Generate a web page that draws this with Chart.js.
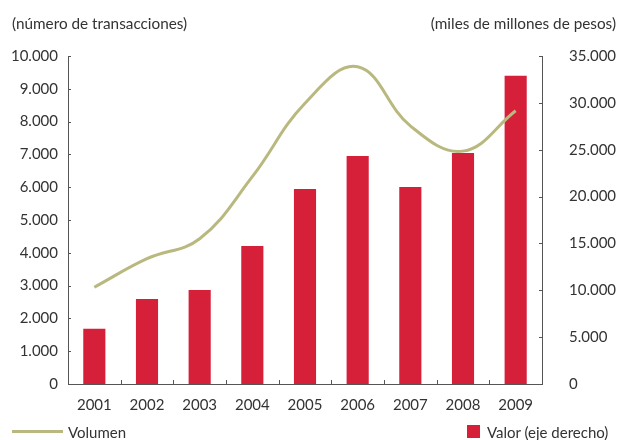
<!DOCTYPE html>
<html lang="es">
<head>
<meta charset="UTF-8">
<title>Transacciones</title>
<style>
    body { margin: 0; background: #fff; font-family: Lato, sans-serif; color: #333; }
    .wrap { position: relative; width: 619px; height: 440px; }
    canvas { position: absolute; left: 0; top: 0; }
    .lbl { position: absolute; font-size: 15px; white-space: nowrap; line-height: 18px; }
    .titulo { font-size: 15.3px; }
    .swatch-line { position: absolute; left: 12px; top: 430px; width: 51px; height: 3px; background: #b9b97f; }
    .swatch-box { position: absolute; left: 467px; top: 425px; width: 13px; height: 13px; background: #d61f38; }
</style>
<script src="https://cdn.jsdelivr.net/npm/chart.js"></script>
</head>
<body>
<div class="wrap">
    <canvas id="grafico" width="619" height="440"></canvas>
    <div class="lbl titulo" style="left:12px; top:14px;">(número de transacciones)</div>
    <div class="lbl titulo" style="right:3px; top:14px;">(miles de millones de pesos)</div>
    <div class="swatch-line"></div>
    <div class="lbl" style="left:68px; top:423px;">Volumen</div>
    <div class="swatch-box"></div>
    <div class="lbl" style="left:487px; top:423px;">Valor (eje derecho)</div>
</div>
<script>
    var anios = ['2001', '2002', '2003', '2004', '2005', '2006', '2007', '2008', '2009'];
    // número de transacciones (eje izquierdo)
    var volumen = [2950, 3820, 4430, 6320, 8560, 9670, 7870, 7100, 8330];
    // miles de millones de pesos (eje derecho)
    var valor = [5900, 9070, 10030, 14720, 20800, 24330, 21020, 24650, 32900];

    function miles(v) {
        return v.toString().replace(/\B(?=(\d{3})+(?!\d))/g, '.');
    }

    // marcas cortas hacia dentro del área del gráfico
    var marcasInternas = {
        id: 'marcasInternas',
        afterDraw: function (chart) {
            var ctx = chart.ctx;
            var a = chart.chartArea;
            var y = chart.scales.y, y1 = chart.scales.y1, x = chart.scales.x;
            ctx.save();
            ctx.strokeStyle = '#555';
            ctx.lineWidth = 1;
            ctx.beginPath();
            y.ticks.forEach(function (t) {
                var p = Math.round(y.getPixelForValue(t.value)) + 0.5;
                ctx.moveTo(a.left, p); ctx.lineTo(a.left + 3, p);
            });
            y1.ticks.forEach(function (t) {
                var p = Math.round(y1.getPixelForValue(t.value)) + 0.5;
                ctx.moveTo(a.right, p); ctx.lineTo(a.right - 3, p);
            });
            for (var i = 0; i <= anios.length; i++) {
                var px = Math.round(x.getPixelForValue(i - 0.5)) + 0.5;
                ctx.moveTo(px, a.bottom); ctx.lineTo(px, a.bottom - 4);
            }
            ctx.stroke();
            ctx.restore();
        }
    };

    var ctx = document.getElementById('grafico').getContext('2d');
    new Chart(ctx, {
        data: {
            labels: anios,
            datasets: [{
                type: 'line',
                label: 'Volumen',
                data: volumen,
                yAxisID: 'y',
                borderColor: '#b9b97f',
                borderWidth: 3,
                pointRadius: 0,
                tension: 0.4,
                order: 0
            }, {
                type: 'bar',
                label: 'Valor (eje derecho)',
                data: valor,
                yAxisID: 'y1',
                backgroundColor: '#d61f38',
                categoryPercentage: 1,
                barPercentage: 0.42,
                order: 1
            }]
        },
        options: {
            responsive: false,
            animation: false,
            layout: { padding: { top: 56, left: 0, right: 0, bottom: 0 } },
            plugins: { legend: { display: false }, tooltip: { enabled: false } },
            scales: {
                x: {
                    offset: true,
                    grid: { display: false, drawTicks: false },
                    border: { color: '#555', width: 1 },
                    ticks: { color: '#333', font: { family: 'Lato', size: 15 }, padding: 12 },
                    afterFit: function (s) { s.height = 56; }
                },
                y: {
                    position: 'left',
                    min: 0, max: 10000,
                    grid: { display: false, drawTicks: false },
                    border: { color: '#555', width: 1 },
                    ticks: { stepSize: 1000, color: '#333', font: { family: 'Lato', size: 15 }, padding: 10,
                        callback: function (v) { return miles(v); } },
                    afterFit: function (s) { s.width = 68; }
                },
                y1: {
                    position: 'right',
                    min: 0, max: 35000,
                    grid: { display: false, drawTicks: false },
                    border: { color: '#555', width: 1 },
                    ticks: { stepSize: 5000, color: '#333', font: { family: 'Lato', size: 15 }, padding: 27,
                        callback: function (v) { return miles(v); } },
                    afterFit: function (s) { s.width = 77; }
                }
            }
        },
        plugins: [marcasInternas]
    });
</script>
</body>
</html>
